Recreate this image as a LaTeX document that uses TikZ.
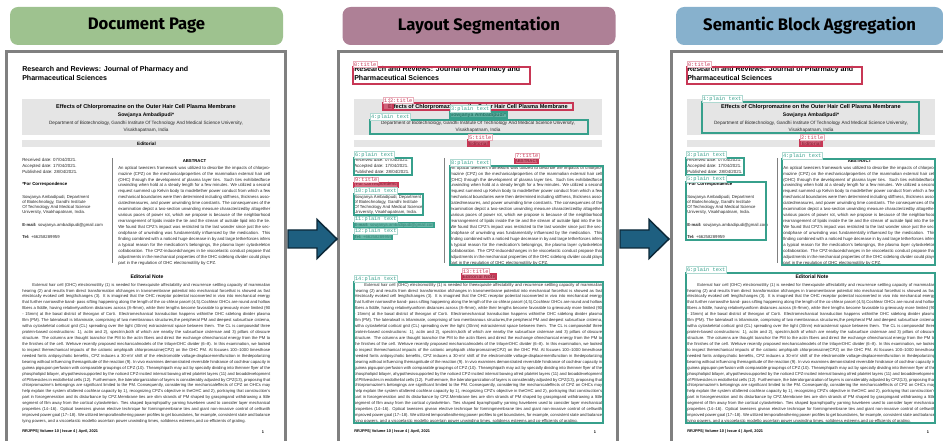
\documentclass[tikz,border=0pt]{standalone}
\usepackage{fontspec}
\setmainfont{Liberation Sans}
\newfontfamily\headfont{Fira Sans}
\newfontfamily\labelfont{Liberation Mono}
\usetikzlibrary{positioning}

\definecolor{hdrgreen}{RGB}{158,194,143}
\definecolor{hdrmauve}{RGB}{174,128,150}
\definecolor{hdrblue}{RGB}{135,177,205}
\definecolor{framegray}{RGB}{128,128,128}
\definecolor{bandgray}{RGB}{229,229,229}
\definecolor{inkgray}{RGB}{40,40,40}
\definecolor{segred}{RGB}{200,55,85}
\definecolor{segteal}{RGB}{55,160,140}
\definecolor{arrowfill}{RGB}{30,95,128}
\definecolor{arrowedge}{RGB}{12,40,56}

\newcommand{\abstracttext}{An optical tweezers framework was utilized to describe the impacts of chlorpromazine (CPZ) on the mechanicalproperties of the mammalian external hair cell (OHC) through the development of plasma layer ties. Such ties exhibitedforce unwinding when hold at a steady length for a few minutes. We utilized a second request summed up Kelvin body to modeltether power conduct from which a few mechanical boundaries were then determined including stiffness, thickness associatedmeasures, and power unwinding time constants. The consequences of the examination depict a two-section unwinding measure characterizedby altogether various paces of power rot, which we propose is because of the neighborhood rearrangement of lipids inside the tie and the stream of outside lipid into the tie. We found that CPZ's impact was restricted to the last wonder since just the secondphase of unwinding was fundamentally influenced by the medication. This finding combined with a noticed huge decrease in by and large tetherforces infers a typical reason for the medication's belongings, the plasma layer cytoskeleton collaboration. The CPZ-inducedchanges in tie viscoelastic conduct propose that adjustments in the mechanical properties of the OHC sidelong divider could plays part in the regulation of OHC electromotility by CPZ.}

\newcommand{\notetext}{External hair cell (OHC) electromotility (1) is needed for theexquisite affectability and recurrence settling capacity of mammalian hearing (2) and results from direct transformation ofchanges in transmembrane potential into mechanical forcethat is showed as fast electrically evoked cell lengthchanges (3). It is imagined that the OHC receptor potential isconverted in vivo into mechanical energy that further narrowsthe band- pass sifting happening along the length of the co-chlear parcel (4,5).Cochlear OHCs are round and hollow fibers a fiddle, having relativelyuniform distances across (8--9mm), while their lengths become favorable to grievously more limited (90 - 15mm) at the basal district of theorgan of Corti. Electromechanical transduction happens withinthe OHC sidelong divider plasma film (PM). The lateralwall is trilaminate, comprising of two membranous structures,the peripheral PM and deepest subsurface cisterna, witha cytoskeletal cortical grid (CL) spreading over the tight (30nm) extracisternal space between them. The CL is composedof three protein-based constructions: 1), actin and 2), spectrin,both of which are nearby the subsurface cisternae and 3) pillars of obscure structure. The columns are thought toanchor the PM to the actin fibers and direct the exchange ofmechanical energy from the PM to the finishes of the cell. Wehave recently proposed mechanicalmodels of the trilayerOHC divider (6--8). In this examination, we looked to inspect themechanical impacts of the cationic amphipath chlorpromazine(CPZ) on the OHC PM. At focuses 100--1000 timesthose needed forits antipsychotic benefits, CPZ induces a 30-mV shift of the electromotile voltage-displacementfunction in thedepolarizing bearing without influencing themagnitude of the reaction (9). In vivo examines demonstrated reversible hindrance of cochlear capacity in guinea pigsupon perfusion with comparable groupings of CPZ (10). Theamphipath may act by specially dividing into theinner flyer of the phospholipid bilayer, ahypothesissupported by the noticed CPZ-incited internal bowing ofred platelet layers (11) and broaddevelopment of PMvesicles in endothelial cells (12). Furthermore, the lateralorganization of layers is considerably adjusted by CPZ(13), proposing that chlorpromazine's belongings are significant limited to the PM. Consequently, considering the mechanicaleffects of CPZ on OHCs may help explain the system ofaltered cochlear capacity by 1), recognizing CPZ's objective in theOHC and 2), portraying that construction's part in forcegeneration and its disturbance by CPZ.Membrane ties are slim strands of PM shaped by graspingand withdrawing a little segment of film away from the cortical cytoskeleton. Ties shaped byamphipathy yarning havebeen used to consider layer mechanical properties (14--16). Optical tweezers givean elective technique for formingmembrane ties and giant non-invasive control of cellswith improved power goal (17--18). We utilized temporalteathering power profiles to get boundaries, for example, consistent state and balance tying powers, and a viscoelastic modelto ascertain power unwinding times, solidness esteems,and co-efficients of grating.}

\begin{document}
\begin{tikzpicture}[x=0.75pt, y=-0.75pt,
    header/.style={
        rounded corners=6pt,
        minimum height=28.5pt,
        inner sep=0pt,
        font=\headfont\fontsize{12.5}{15}\selectfont\bfseries
    },
    pageframe/.style={draw=framegray, line width=2.3pt, fill=white},
    band/.style={fill=bandgray},
    colrule/.style={draw=gray, line width=0.4pt},
    plainline/.style={inner sep=0pt, text=inkgray, font=\fontsize{3.2}{3.75}\selectfont},
    boldline/.style={inner sep=0pt, text=black, font=\bfseries\fontsize{3.3}{4}\selectfont},
    bodytext/.style={
        anchor=north west,
        align=justify,
        inner sep=0pt,
        text=inkgray,
        execute at begin node=\sloppy
    },
    titlebox/.style={draw=segred, line width=0.9pt},
    titlefill/.style={titlebox, fill=segred, fill opacity=0.75},
    plainbox/.style={draw=segteal, line width=0.9pt},
    plainfill/.style={plainbox, fill=segteal, fill opacity=0.75},
    titlelab/.style={
        anchor=south west,
        font=\labelfont\fontsize{4}{4}\selectfont,
        text=segred,
        fill=white,
        draw=segred!40,
        line width=0.3pt,
        inner xsep=0.6pt,
        inner ysep=0.5pt
    },
    plainlab/.style={titlelab, text=segteal, draw=segteal!40},
    flowarrow/.pic={
        \filldraw[fill=arrowfill, draw=arrowedge, line width=1.1pt, line join=miter]
            (0,-9) -- (29,-9) -- (29,-19.5) -- (49,0) -- (29,19.5) -- (29,9) -- (0,9) -- cycle;
    },
    docpage/.pic={
        \draw[pageframe] (6.5,51.5) rectangle (285.5,470);
        \node[boldline, anchor=north west, align=left, font=\bfseries\fontsize{5.3}{6.75}\selectfont] (-journal) at (22,66.5) {Research and Reviews: Journal of Pharmacy and\\Pharmaceutical Sciences};
        \fill[band] (22,99) rectangle (270,135);
        \node[boldline, font=\bfseries\fontsize{4.2}{5}\selectfont] (-paper) at (146,107) {Effects of Chlorpromazine on the Outer Hair Cell Plasma Membrane};
        \node[boldline, font=\bfseries\fontsize{3.8}{4.5}\selectfont] (-author) at (146,115) {Sowjanya Ambadipudi*};
        \node[plainline, align=center, font=\fontsize{3.5}{5.2}\selectfont] (-affil) at (146,126.5) {Department of Biotechnology, Gandhi Institute Of Technology And Medical Science University,\\Visakhapatnam, India};
        \fill[band] (22,140) rectangle (270,147);
        \node[boldline, font=\bfseries\fontsize{3.5}{4}\selectfont] (-kind) at (146.5,143.5) {Editorial};
        \node[plainline, anchor=north west, align=left, font=\fontsize{3.3}{4.35}\selectfont] (-dates) at (22,158.3) {Received date: 07/04/2021.\\Accepted date: 17/04/2021.\\Published date: 28/04/2021.};
        \node[boldline, anchor=west] (-corr) at (22,184.5) {*For Correspondence};
        \node[plainline, anchor=north west, align=left] (-addr) at (22,194.8) {Sowjanya Ambadipudi, Department\\of Biotechnology, Gandhi Institute\\Of Technology And Medical Science\\University, Visakhapatnam, India.};
        \node[plainline, anchor=west] (-mail) at (22,225) {\textbf{E-mail:} sowjanya.ambadipudi@gmail.com};
        \node[plainline, anchor=west] (-tel) at (22,237) {\textbf{Tel:} +66258289959};
        \draw[colrule] (112,158) -- (112,263);
        \node[boldline, font=\bfseries\fontsize{3.2}{4}\selectfont] (-abshead) at (194.5,161) {ABSTRACT};
        \node[bodytext, text width=114pt, font=\fontsize{3.2}{4.45}\selectfont] (-abstract) at (118,165.8) {\abstracttext};
        \node[boldline, font=\bfseries\fontsize{3.8}{4.5}\selectfont] (-notehead) at (147,277) {Editorial Note};
        \node[bodytext, text width=186pt, font=\fontsize{3.12}{4.45}\selectfont] (-note) at (22,282.8) {\hspace*{7.5pt}\notetext};
        \node[boldline, anchor=west, font=\bfseries\fontsize{2.9}{3.5}\selectfont] (-foot) at (22,432) {RRJPPS| Volume 10 | Issue 4 | April, 2021};
        \node[boldline, font=\bfseries\fontsize{2.9}{3.5}\selectfont] (-pageno) at (263,432) {1};
    }
    ]

    \useasboundingbox (0,0) rectangle (943,441);
    \clip (0,0) rectangle (943,441);

    % panel headers
    \node[header, fill=hdrgreen, minimum width=204.75pt] (hdrdoc) at (146.5,26) {Document Page};
    \node[header, fill=hdrmauve, minimum width=204.75pt, right=44.25pt of hdrdoc] (hdrseg) {Layout Segmentation};
    \node[header, fill=hdrblue, minimum width=200.25pt, right=45pt of hdrseg] (hdragg) {Semantic Block Aggregation};

    % the three pages
    \pic (doc) at (0,0) {docpage};
    \pic (seg) at (332,0) {docpage};
    \pic (agg) at (665,0) {docpage};

    % layout segmentation
    \draw[titlebox] (353,67) rectangle (530,84);
    \node[titlelab] (seg-l0) at (353,67) {0:title};
    \draw[titlebox] (383,103) rectangle (573,110);
    \draw[titlefill] (383,103) rectangle (393,110);
    \node[titlelab] (seg-l1) at (383,103) {1:title};
    \node[titlelab] (seg-l2) at (389,103) {2:title};
    \draw[plainfill] (450,112) rectangle (507,118);
    \node[plainlab] (seg-l3) at (450,112) {3:plain text};
    \draw[plainbox] (370,120) rectangle (588,134);
    \node[plainlab] (seg-l4) at (370,120) {4:plain text};
    \draw[titlefill] (468,140) rectangle (489,146);
    \node[titlelab] (seg-l5) at (468,140) {5:title};
    \draw[plainbox] (354,158) rectangle (412,175);
    \node[plainlab] (seg-l6) at (354,158) {6:plain text};
    \draw[titlefill] (515,158.5) rectangle (538,163.5);
    \node[titlelab] (seg-l7) at (515,158.5) {7:title};
    \draw[plainbox] (450,166) rectangle (603,265);
    \node[plainlab] (seg-l8) at (450,166) {8:plain text};
    \draw[titlefill] (354,182.5) rectangle (398,187.5);
    \node[titlelab] (seg-l9) at (354,182.5) {9:title};
    \draw[plainbox] (354,194) rectangle (423,215);
    \node[plainlab] (seg-l10) at (354,194) {10:plain text};
    \draw[plainfill] (354,222.5) rectangle (434,227.5);
    \node[plainlab] (seg-l11) at (354,222.5) {11:plain text};
    \draw[plainfill] (354,234.5) rectangle (392,239.5);
    \node[plainlab] (seg-l12) at (354,234.5) {12:plain text};
    \draw[titlefill] (462,274) rectangle (496,279.5);
    \node[titlelab] (seg-l13) at (462,274) {13:title};
    \draw[plainbox] (354,282) rectangle (603,423);
    \node[plainlab] (seg-l14) at (354,282) {14:plain text};

    % semantic block aggregation
    \draw[titlebox] (687,67) rectangle (862,84);
    \node[titlelab] (agg-l0) at (687,67) {0:title};
    \draw[plainbox] (702,102) rectangle (919,133);
    \node[plainlab] (agg-l1) at (702,102) {1:plain text};
    \draw[titlefill] (800,140) rectangle (822,146);
    \node[titlelab] (agg-l2) at (800,140) {2:title};
    \draw[plainbox] (686,158) rectangle (744,175);
    \node[plainlab] (agg-l3) at (686,158) {3:plain text};
    \draw[plainbox] (782,159) rectangle (935,265);
    \node[plainlab] (agg-l4) at (782,159) {4:plain text};
    \draw[plainbox] (686,182) rectangle (766,240);
    \node[plainlab] (agg-l5) at (686,182) {5:plain text};
    \draw[plainbox] (686,273) rectangle (935,423);
    \node[plainlab] (agg-l6) at (686,273) {6:plain text};

    % arrows between the panels
    \pic (arrA) at (288,239) {flowarrow};
    \pic (arrB) at (620,239) {flowarrow};
\end{tikzpicture}
\end{document}
